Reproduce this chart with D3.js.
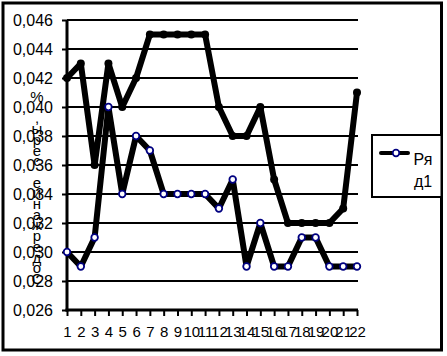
<!DOCTYPE html>
<html><head><meta charset="utf-8">
<script src="https://cdn.jsdelivr.net/npm/d3@7"></script>
<style>
html,body{margin:0;padding:0;background:#fff;}
svg{display:block;font-family:"Liberation Sans",Arial,sans-serif;}
</style></head>
<body>
<script>
const categories = d3.range(1, 23).map(String);
const series1 = [0.042,0.043,0.036,0.043,0.040,0.042,0.045,0.045,0.045,0.045,0.045,0.040,0.038,0.038,0.040,0.035,0.032,0.032,0.032,0.032,0.033,0.041];
const series2 = [0.030,0.029,0.031,0.040,0.034,0.038,0.037,0.034,0.034,0.034,0.034,0.033,0.035,0.029,0.032,0.029,0.029,0.031,0.031,0.029,0.029,0.029];
const yTicks = [0.026,0.028,0.030,0.032,0.034,0.036,0.038,0.040,0.042,0.044,0.046];
const legendLabel = ["Ря","д1"];
const yTitle = "Содержание серы, %";

const W = 447, H = 356;
const svg = d3.select("body").append("svg").attr("width", W).attr("height", H);

svg.append("rect").attr("x",3).attr("y",3).attr("width",438.5).attr("height",347)
  .attr("fill","#fff").attr("stroke","#000").attr("stroke-width",3);

const x = d3.scalePoint().domain(categories).range([67, 357]);
const y = d3.scaleLinear().domain([0.026, 0.046]).range([310, 20]);
const fmt = v => d3.format(".3f")(v).replace(".", ",");

// gridlines
svg.append("g").selectAll("line").data(yTicks.slice(1)).join("line")
  .attr("x1",67).attr("x2",358).attr("y1",d=>y(d)).attr("y2",d=>y(d))
  .attr("stroke","#000").attr("stroke-width",2);

// y axis
const ya = svg.append("g").attr("transform","translate(67,0)")
  .call(d3.axisLeft(y).tickValues(yTicks).tickFormat(fmt).tickSize(5).tickPadding(9));
ya.select(".domain").attr("stroke-width",3).attr("d","M0,20V311.5");
ya.selectAll(".tick line").attr("stroke-width",2);
ya.selectAll("text").attr("font-size",16).attr("fill","#000").attr("font-family","Liberation Sans, Arial, sans-serif");

// x axis
const xa = svg.append("g").attr("transform","translate(0,310)")
  .call(d3.axisBottom(x).tickSize(6).tickPadding(10));
xa.select(".domain").attr("stroke-width",3).attr("d","M65.5,0H358");
xa.selectAll(".tick line").attr("stroke-width",2);
xa.selectAll("text").attr("font-size",15).attr("fill","#000").attr("font-family","Liberation Sans, Arial, sans-serif");

// y title: stacked characters (reversed, as in the reference)
const chars = Array.from(yTitle).reverse();
const t = svg.append("text").attr("font-size",15).attr("text-anchor","middle").attr("fill","#000");
chars.forEach((c,i)=>{
  t.append("tspan").attr("x",37).attr("y",102 + i*10.7).text(c);
});

const line = d3.line().x((d,i)=>x(categories[i])).y(d=>y(d));

svg.append("path").datum(series1).attr("d",line).attr("fill","none")
  .attr("stroke","#000").attr("stroke-width",6).attr("stroke-linejoin","round");
svg.append("g").selectAll("circle").data(series1).join("circle")
  .attr("cx",(d,i)=>x(categories[i])).attr("cy",d=>y(d)).attr("r",4).attr("fill","#000");

svg.append("path").datum(series2).attr("d",line).attr("fill","none")
  .attr("stroke","#000").attr("stroke-width",6).attr("stroke-linejoin","round");
svg.append("g").selectAll("circle").data(series2).join("circle")
  .attr("cx",(d,i)=>x(categories[i])).attr("cy",d=>y(d)).attr("r",3.3)
  .attr("fill","#fff").attr("stroke","#000080").attr("stroke-width",1.8);

// legend
svg.append("rect").attr("x",372).attr("y",135).attr("width",69.5).attr("height",62)
  .attr("fill","#fff").attr("stroke","#000").attr("stroke-width",2);
svg.append("line").attr("x1",381).attr("x2",408).attr("y1",153).attr("y2",153)
  .attr("stroke","#000").attr("stroke-width",4).attr("stroke-linecap","round");
svg.append("circle").attr("cx",396).attr("cy",153).attr("r",3.3)
  .attr("fill","#fff").attr("stroke","#000080").attr("stroke-width",1.8);
legendLabel.forEach((s,i)=>{
  svg.append("text").attr("x",423).attr("y",165+i*22).attr("text-anchor","middle")
    .attr("font-size",16).attr("fill","#000").text(s);
});
</script>
</body></html>
